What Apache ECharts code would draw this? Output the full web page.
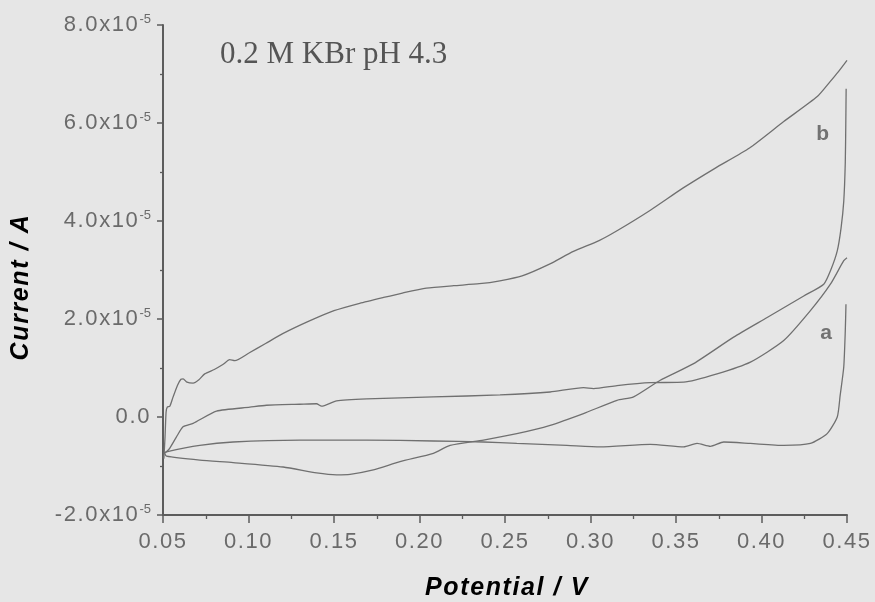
<!DOCTYPE html>
<html>
<head>
<meta charset="utf-8">
<script src="https://cdn.jsdelivr.net/npm/echarts@6/dist/echarts.min.js"></script>
<style>
  html, body { margin: 0; padding: 0; background: #e6e6e6; }
  #chart { width: 875px; height: 602px; }
</style>
</head>
<body>
<div id="chart"></div>
<script>
// Cyclic voltammograms in 0.2 M KBr, pH 4.3.
// Potential in V, current in units of 1e-5 A.

// curve b, anodic sweep 0.05 -> 0.45 V
const curveBForward = [
  [0.0505, -0.85], [0.0512, -0.40], [0.0518, 0.10], [0.0525, 0.20], [0.0540, 0.22],
  [0.0558, 0.40], [0.0585, 0.65], [0.0605, 0.77], [0.0618, 0.78], [0.0640, 0.71],
  [0.0676, 0.69], [0.0710, 0.76], [0.0744, 0.88], [0.0800, 0.97], [0.0850, 1.07],
  [0.0890, 1.17], [0.0920, 1.15], [0.1000, 1.30], [0.1100, 1.50], [0.1200, 1.70],
  [0.1350, 1.95], [0.1500, 2.17], [0.1650, 2.32], [0.1790, 2.44], [0.1900, 2.53],
  [0.2040, 2.63], [0.2200, 2.68], [0.2350, 2.72], [0.2470, 2.78], [0.2600, 2.88],
  [0.2760, 3.12], [0.2900, 3.38], [0.3050, 3.60], [0.3150, 3.79], [0.3350, 4.22],
  [0.3540, 4.67], [0.3730, 5.08], [0.3930, 5.49], [0.4130, 6.03], [0.4326, 6.54],
  [0.4400, 6.84], [0.4450, 7.05], [0.4500, 7.28]
];

// curve b, cathodic sweep 0.45 -> 0.05 V
const curveBReverse = [
  [0.4495, 6.70], [0.4493, 6.00], [0.4490, 5.20], [0.4481, 4.40], [0.4465, 3.85],
  [0.4443, 3.39], [0.4405, 3.00], [0.4364, 2.71], [0.4247, 2.47], [0.4033, 2.03],
  [0.3837, 1.63], [0.3603, 1.09], [0.3408, 0.75], [0.3252, 0.41], [0.3155, 0.34],
  [0.2959, 0.07], [0.2764, -0.17], [0.2569, -0.34], [0.2374, -0.47], [0.2179, -0.58],
  [0.2081, -0.74], [0.1886, -0.91], [0.1730, -1.08], [0.1594, -1.17], [0.1515, -1.18],
  [0.1398, -1.14], [0.1203, -1.02], [0.0910, -0.93], [0.0715, -0.88], [0.0520, -0.80],
  [0.0510, -0.74]
];

// curve a, anodic sweep
const curveAForward = [
  [0.0505, -0.74], [0.0520, -0.71], [0.0539, -0.64], [0.0578, -0.41], [0.0617, -0.20],
  [0.0676, -0.13], [0.0813, 0.12], [0.1008, 0.20], [0.1105, 0.24], [0.1300, 0.26],
  [0.1398, 0.27], [0.1427, 0.22], [0.1515, 0.33], [0.1691, 0.37], [0.2081, 0.41],
  [0.2471, 0.45], [0.2764, 0.51], [0.2959, 0.60], [0.3018, 0.58], [0.3155, 0.64],
  [0.3350, 0.70], [0.3545, 0.71], [0.3740, 0.88], [0.3935, 1.12], [0.4130, 1.56],
  [0.4286, 2.17], [0.4403, 2.71], [0.4481, 3.19], [0.4500, 3.25]
];

// curve a, cathodic sweep
const curveAReverse = [
  [0.4494, 2.30], [0.4490, 1.76], [0.4481, 1.02], [0.4460, 0.44], [0.4443, 0.00],
  [0.4384, -0.34], [0.4286, -0.54], [0.4130, -0.58], [0.3935, -0.54], [0.3779, -0.51],
  [0.3701, -0.60], [0.3623, -0.54], [0.3545, -0.61], [0.3350, -0.56], [0.3057, -0.61],
  [0.2862, -0.58], [0.2569, -0.54], [0.2374, -0.51], [0.2081, -0.49], [0.1691, -0.47],
  [0.1300, -0.47], [0.0910, -0.51], [0.0715, -0.58], [0.0520, -0.71], [0.0505, -0.74]
];

// curve identifiers placed beside the 0.45 V ends
const curveTags = [
  { name: 'b', value: [0.4357, 5.77] },
  { name: 'a', value: [0.4378, 1.71] }
];

const potentialTicks = { min: 0.05, max: 0.45, step: 0.05 };
const currentTicks = { min: -2, max: 8, step: 2 };

const lineColor = '#707070';
const axisColor = '#5c5c5c';
const labelColor = '#6a6a6a';
const textColor = '#555555';

// Spread the characters of a string apart: one rich token per character.
function spaced(str, token) {
  return str.split('').map(c => '{' + token + '|' + c + '}').join('');
}

function traceSeries(data) {
  return {
    type: 'line',
    data: data,
    showSymbol: false,
    symbol: 'none',
    silent: true,
    smooth: 0.2,
    lineStyle: { color: lineColor, width: 1.3 },
    z: 3
  };
}

const sansTick = { fontSize: 22, color: labelColor, fontFamily: 'Liberation Sans', padding: [0, 1.6, 0, 0] };
const titleChar = {
  fontSize: 25, fontStyle: 'italic', fontWeight: 'bold', color: textColor,
  fontFamily: 'Liberation Sans', padding: [0, 1.6, 0, 0]
};

const chart = echarts.init(document.getElementById('chart'), null, { renderer: 'canvas' });

chart.setOption({
  backgroundColor: '#e6e6e6',
  animation: false,
  grid: {
    left: 163, right: 28, top: 25, bottom: 87,
    containLabel: false, outerBoundsMode: 'none'
  },
  xAxis: {
    type: 'value',
    min: potentialTicks.min, max: potentialTicks.max, interval: potentialTicks.step,
    axisLine: { show: true, onZero: false, lineStyle: { color: axisColor, width: 2 } },
    axisTick: { show: true, inside: false, length: 8, lineStyle: { color: axisColor, width: 1.5 } },
    minorTick: { show: true, splitNumber: 2, length: 4, lineStyle: { color: axisColor, width: 1.3 } },
    splitLine: { show: false },
    axisLabel: {
      margin: 16,
      formatter: v => spaced(v.toFixed(2), 't'),
      rich: { t: sansTick }
    }
  },
  yAxis: {
    type: 'value',
    min: currentTicks.min, max: currentTicks.max, interval: currentTicks.step,
    axisLine: { show: true, onZero: false, lineStyle: { color: axisColor, width: 2 } },
    axisTick: { show: true, inside: false, length: 6, lineStyle: { color: axisColor, width: 1.5 } },
    minorTick: { show: true, splitNumber: 2, length: 3, lineStyle: { color: axisColor, width: 1.3 } },
    splitLine: { show: false },
    axisLabel: {
      margin: 12,
      formatter: v => Math.abs(v) < 1e-9
        ? spaced('0.0', 't')
        : spaced(v.toFixed(1) + 'x10', 't') + '{s|-5}',
      rich: {
        t: sansTick,
        s: { fontSize: 13, color: labelColor, fontFamily: 'Liberation Sans', padding: [0, 0, 12, 0] }
      }
    }
  },
  series: [
    traceSeries(curveBForward),
    traceSeries(curveBReverse),
    traceSeries(curveAForward),
    traceSeries(curveAReverse),
    {
      type: 'scatter',
      data: curveTags,
      symbolSize: 0,
      silent: true,
      label: {
        show: true, position: 'inside',
        formatter: p => p.name,
        color: textColor, fontSize: 21, fontWeight: 'bold', fontFamily: 'Liberation Sans'
      }
    }
  ],
  graphic: [
    {
      type: 'text', x: 220, y: 55,
      style: {
        text: '0.2 M KBr pH 4.3', fill: textColor, verticalAlign: 'middle',
        font: '31px "Liberation Serif"'
      }
    },
    {
      type: 'text', x: 507, y: 588,
      style: {
        text: spaced('Potential / V', 'c'), rich: { c: titleChar },
        align: 'center', verticalAlign: 'middle'
      }
    },
    {
      type: 'text', x: 21, y: 287, rotation: Math.PI / 2,
      style: {
        text: spaced('Current / A', 'c'), rich: { c: titleChar },
        align: 'center', verticalAlign: 'middle'
      }
    }
  ]
});
</script>
</body>
</html>
